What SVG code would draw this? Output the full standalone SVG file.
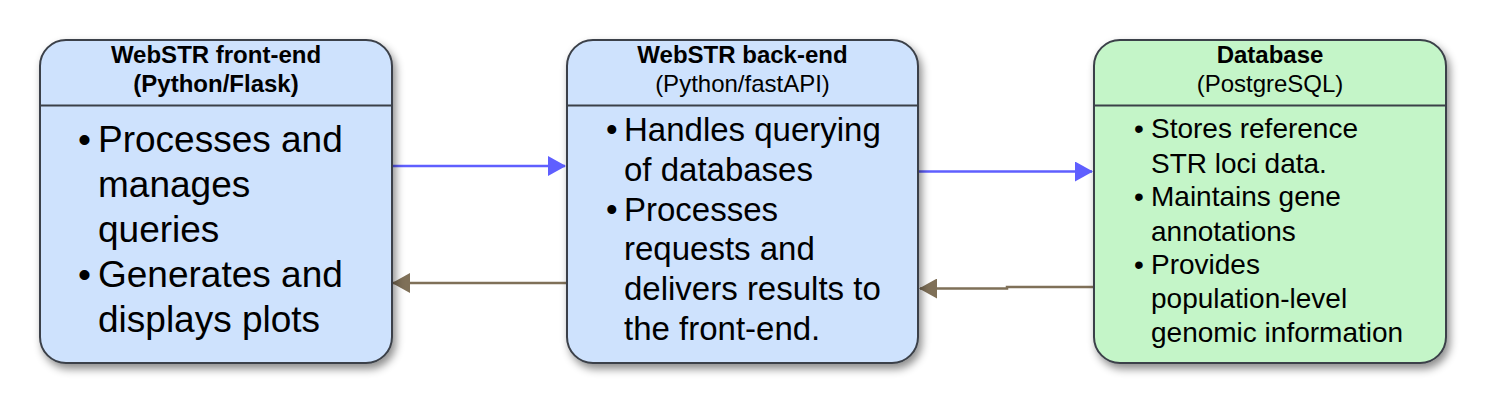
<svg xmlns="http://www.w3.org/2000/svg" width="1485" height="404" viewBox="0 0 1485 404">
<defs>
<style>
.box{stroke:#3b4048;stroke-width:2}
.blue{fill:#cee2fd}
.green{fill:#c4f5c8}
.div{stroke:#3b4048;stroke-width:2}
.t{font-family:"Liberation Sans",Arial,sans-serif;fill:#000}
.tb{font-weight:bold;font-size:24px;text-anchor:middle}
.tr{font-size:24px;text-anchor:middle}
.b1{font-size:37px}
.b2{font-size:33px}
.b3{font-size:28px}
.fwd{stroke:#5f5fff;stroke-width:2.5;fill:none}
.bwd{stroke:#7f7058;stroke-width:2.5;fill:none}
</style>
<filter id="sh" x="-10%" y="-10%" width="130%" height="130%">
<feDropShadow dx="3" dy="5" stdDeviation="4" flood-color="#000" flood-opacity="0.45"/>
</filter>
<marker id="ab" markerWidth="18" markerHeight="20" refX="17" refY="10" orient="auto" markerUnits="userSpaceOnUse">
<path d="M0,0 L18,10 L0,20 Z" fill="#5f5fff"/>
</marker>
<marker id="ar" markerWidth="18" markerHeight="20" refX="17" refY="10" orient="auto" markerUnits="userSpaceOnUse">
<path d="M0,0 L18,10 L0,20 Z" fill="#7f7058"/>
</marker>
</defs>

<g id="connectors">
<path class="fwd" d="M393,166 L565,166" marker-end="url(#ab)"/>
<path class="bwd" d="M567,283 L393,283" marker-end="url(#ar)"/>
<path class="fwd" d="M919,171.5 L1092,171.5" marker-end="url(#ab)"/>
<path class="bwd" d="M1094,287 L1007,287 L1007,288.5 L920,288.5" marker-end="url(#ar)"/>
</g>

<g id="frontend">
<rect class="box blue" x="40" y="40" width="352" height="323" rx="26" filter="url(#sh)"/>
<line class="div" x1="40" y1="105.5" x2="392" y2="105.5"/>
<text class="t tb" x="216" y="63">WebSTR front-end</text>
<text class="t tb" x="216" y="92">(Python/Flask)</text>
<text class="t b1" x="78" y="152">•</text>
<text class="t b1" x="98" y="152">Processes and</text>
<text class="t b1" x="98" y="197">manages</text>
<text class="t b1" x="98" y="242">queries</text>
<text class="t b1" x="78" y="287">•</text>
<text class="t b1" x="98" y="287">Generates and</text>
<text class="t b1" x="98" y="332">displays plots</text>
</g>

<g id="backend">
<rect class="box blue" x="567" y="40" width="351" height="323" rx="26" filter="url(#sh)"/>
<line class="div" x1="567" y1="105.5" x2="918" y2="105.5"/>
<text class="t tb" x="742.5" y="63">WebSTR back-end</text>
<text class="t tr" x="742.5" y="92">(Python/fastAPI)</text>
<text class="t b2" x="606" y="141">•</text>
<text class="t b2" x="624" y="141">Handles querying</text>
<text class="t b2" x="624" y="181">of databases</text>
<text class="t b2" x="606" y="221">•</text>
<text class="t b2" x="624" y="221">Processes</text>
<text class="t b2" x="624" y="260">requests and</text>
<text class="t b2" x="624" y="300">delivers results to</text>
<text class="t b2" x="624" y="340">the front-end.</text>
</g>

<g id="database">
<rect class="box green" x="1094" y="40" width="352" height="323" rx="26" filter="url(#sh)"/>
<line class="div" x1="1094" y1="105.5" x2="1446" y2="105.5"/>
<text class="t tb" x="1270" y="63">Database</text>
<text class="t tr" x="1270" y="92">(PostgreSQL)</text>
<text class="t b3" x="1134" y="138">•</text>
<text class="t b3" x="1151" y="138">Stores reference</text>
<text class="t b3" x="1151" y="172.5">STR loci data.</text>
<text class="t b3" x="1134" y="206">•</text>
<text class="t b3" x="1151" y="206">Maintains gene</text>
<text class="t b3" x="1151" y="240.5">annotations</text>
<text class="t b3" x="1134" y="274">•</text>
<text class="t b3" x="1151" y="274">Provides</text>
<text class="t b3" x="1151" y="308">population-level</text>
<text class="t b3" x="1151" y="342">genomic information</text>
</g>
</svg>
